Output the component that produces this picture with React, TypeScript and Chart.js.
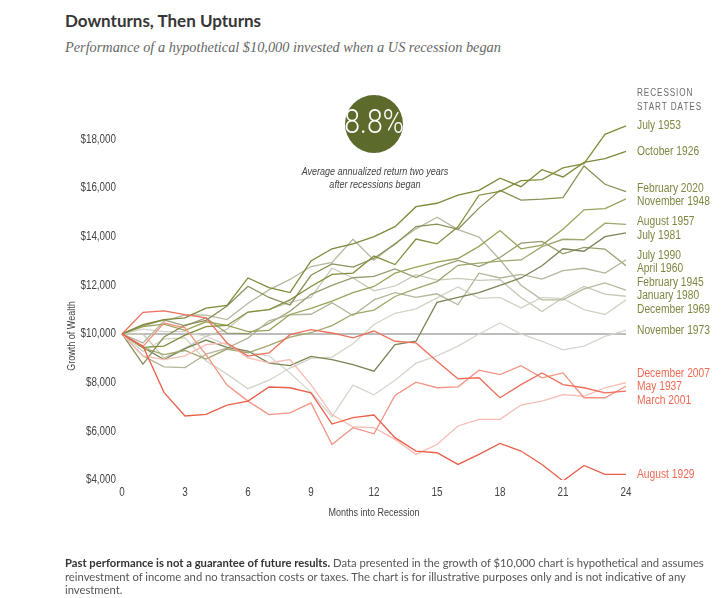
import React, { useEffect, useRef } from "react";
import { Chart, registerables } from "chart.js";

Chart.register(...registerables);

const SANS = '"Liberation Sans", Arial, sans-serif';
const SX = 0.82; // horizontal condensing applied to canvas text

// ---------- data ----------
const MONTHS = ["0", "1", "2", "3", "4", "5", "6", "7", "8", "9", "10", "11", "12", "13", "14", "15", "16", "17", "18", "19", "20", "21", "22", "23", "24"];
const X_TICKS = [0, 3, 6, 9, 12, 15, 18, 21, 24];
const Y_TICKS = [4000, 6000, 8000, 10000, 12000, 14000, 16000, 18000];
const BASELINE = 10000;
const HEADLINE_RETURN = "8.8%";
const HEADLINE_CAPTION = ["Average annualized return two years", "after recessions began"];
const LEGEND_HEADER = ["RECESSION", "START DATES"];
const X_TITLE = "Months into Recession";
const Y_TITLE = "Growth of Wealth";

const JUL_1953 = [10000, 9450, 9500, 9950, 10300, 10350, 10900, 11000, 11400, 11950, 12450, 12500, 13200, 12850, 13900, 13700, 14400, 15700, 15860, 16300, 16340, 16820, 17000, 18200, 18550];
const OCT_1926 = [10000, 10380, 10590, 10660, 11060, 11170, 12300, 11900, 11700, 13000, 13500, 13700, 14000, 14410, 15230, 15370, 15700, 15900, 16400, 16050, 16750, 16450, 17050, 17200, 17500];
const FEB_2020 = [10000, 8760, 9880, 10360, 10560, 11150, 11960, 11500, 11190, 12410, 12880, 12750, 13110, 13690, 14410, 14510, 14300, 15170, 15900, 15500, 15540, 15600, 16900, 16150, 15850];
const NOV_1948 = [10000, 10300, 10400, 10150, 10500, 10350, 10100, 10150, 10800, 11050, 11350, 11700, 11950, 12500, 12750, 12950, 13100, 13600, 14250, 13500, 13650, 14300, 15100, 15150, 15550];
const AUG_1957 = [10000, 9430, 9150, 9320, 8970, 9380, 9220, 9530, 9870, 10050, 10340, 10820, 10980, 11540, 11860, 12150, 12820, 12910, 12990, 13040, 13590, 13890, 13870, 14550, 14500];
const JUL_1981 = [10000, 9450, 8950, 9400, 9750, 9450, 9300, 8800, 8700, 9080, 8950, 8740, 8470, 9560, 9700, 11300, 11500, 11700, 12000, 12300, 12800, 13500, 13400, 14000, 14150];
const JUL_1990 = [10000, 9100, 8650, 8620, 9170, 9420, 9830, 10540, 10790, 10810, 11280, 10760, 11400, 11700, 11500, 11650, 11200, 12500, 12300, 12450, 12250, 12600, 12700, 12500, 13050];
const APR_1960 = [10000, 10330, 10580, 10330, 10660, 10030, 10010, 10430, 10930, 11630, 12000, 12310, 12370, 12670, 12320, 12740, 13020, 12770, 13140, 13730, 13800, 13290, 13560, 13490, 12800];
const FEB_1945 = [10000, 9630, 10530, 10780, 10770, 10590, 11260, 11810, 12240, 12770, 12940, 13890, 13030, 13720, 14320, 14800, 14290, 13980, 13050, 12000, 11400, 11400, 11850, 12100, 11800];
const JAN_1980 = [10000, 10000, 9020, 9420, 9900, 10200, 10900, 11000, 11300, 11500, 12700, 12300, 11770, 11970, 12440, 12210, 12280, 12200, 12230, 11500, 10920, 11490, 11950, 11640, 11550];
const DEC_1969 = [10000, 9280, 9800, 9840, 8900, 8350, 7750, 8100, 8600, 9000, 9050, 9600, 10390, 10850, 11030, 11480, 11930, 11460, 11500, 11070, 11500, 11450, 11000, 10800, 11400];
const NOV_1973 = [10000, 10200, 10100, 10100, 9900, 9550, 9250, 9100, 8400, 7600, 6600, 7900, 7500, 8100, 8800, 9100, 9500, 10000, 10450, 10000, 9700, 9350, 9500, 9900, 10150];
const DEC_2007 = [10000, 9100, 8950, 9100, 9560, 9630, 9020, 8810, 8950, 7920, 6690, 6180, 6150, 5670, 5050, 5460, 6220, 6490, 6490, 7080, 7240, 7510, 7440, 7790, 8000];
const MAY_1937 = [10000, 9490, 10450, 10250, 9150, 7900, 7240, 6690, 6760, 7170, 5460, 6150, 5900, 7470, 8020, 7790, 7830, 8510, 8330, 8700, 8200, 8400, 7380, 7380, 7850];
const MAR_2001 = [10000, 10890, 10950, 10790, 10660, 9630, 9090, 9220, 9970, 10180, 10040, 9840, 10120, 9700, 9630, 8880, 8160, 8200, 7380, 7920, 8400, 7920, 7790, 7580, 7650];
const AUG_1929 = [10000, 9500, 7600, 6630, 6700, 7080, 7240, 7820, 7790, 7580, 6300, 6560, 6670, 5740, 5190, 5120, 4640, 5050, 5500, 5190, 4640, 3960, 4600, 4230, 4230];

// table (drawing order: first = on top)
const SERIES = [
  { name: "August 1929", values: AUG_1929, color: "#ea5f49", red: true },
  { name: "March 2001", values: MAR_2001, color: "#ee6f5b", red: true },
  { name: "May 1937", values: MAY_1937, color: "#f29483", red: true },
  { name: "December 2007", values: DEC_2007, color: "#f7bcb3", red: true },
  { name: "July 1953", values: JUL_1953, color: "#858d3c", red: false },
  { name: "October 1926", values: OCT_1926, color: "#7d8838", red: false },
  { name: "February 2020", values: FEB_2020, color: "#8a9058", red: false },
  { name: "November 1948", values: NOV_1948, color: "#9ba25a", red: false },
  { name: "August 1957", values: AUG_1957, color: "#a0a66c", red: false },
  { name: "July 1981", values: JUL_1981, color: "#7a8455", red: false },
  { name: "July 1990", values: JUL_1990, color: "#b3b699", red: false },
  { name: "April 1960", values: APR_1960, color: "#979d6c", red: false },
  { name: "February 1945", values: FEB_1945, color: "#b6b99e", red: false },
  { name: "January 1980", values: JAN_1980, color: "#c7c9b6", red: false },
  { name: "December 1969", values: DEC_1969, color: "#d2d4c6", red: false },
  { name: "November 1973", values: NOV_1973, color: "#d5d5cf", red: false },
];

function spreadLabels(ys: number[], gap: number): number[] {
  const idx = ys.map((_, i) => i).sort((a, b) => ys[a] - ys[b]);
  const pos = idx.map((i) => ys[i]);
  for (let it = 0; it < 300; it++) {
    let moved = false;
    for (let k = 1; k < pos.length; k++) {
      const d = pos[k] - pos[k - 1];
      if (d < gap - 0.01) {
        const s = (gap - d) / 2;
        pos[k - 1] -= s;
        pos[k] += s;
        moved = true;
      }
    }
    if (!moved) break;
  }
  const out: number[] = new Array(ys.length);
  idx.forEach((i, k) => (out[i] = pos[k]));
  return out;
}

function drawText(
  ctx: CanvasRenderingContext2D,
  str: string,
  x: number,
  y: number,
  o: { size: number; color: string; align?: CanvasTextAlign; italic?: boolean; weight?: string; spacing?: number; rotate?: number; family?: string; sx?: number }
) {
  const sx = o.sx || SX;
  ctx.save();
  ctx.translate(x, y);
  if (o.rotate) ctx.rotate(o.rotate);
  ctx.scale(sx, 1);
  ctx.font = `${o.italic ? "italic " : ""}${o.weight || "normal"} ${o.size}px ${o.family || SANS}`;
  ctx.fillStyle = o.color;
  ctx.textAlign = o.align || "left";
  ctx.textBaseline = "middle";
  (ctx as any).letterSpacing = o.spacing ? `${o.spacing / sx}px` : "0px";
  ctx.fillText(str, 0, 0);
  ctx.restore();
}

const overlay = {
  id: "overlay",
  beforeDatasetsDraw(chart: any) {
    const { ctx, chartArea: a, scales } = chart;
    const yy = scales.y.getPixelForValue(BASELINE);
    ctx.save();
    ctx.strokeStyle = "#bdbdbd";
    ctx.lineWidth = 2;
    ctx.beginPath();
    ctx.moveTo(a.left, yy);
    ctx.lineTo(a.right, yy);
    ctx.stroke();
    ctx.restore();
  },
  afterDraw(chart: any) {
    const { ctx, chartArea: a, scales } = chart;
    const x = scales.x;
    const y = scales.y;

    // tick labels (positions from the chart's own scales)
    Y_TICKS.forEach((v) => {
      drawText(ctx, "$" + v.toLocaleString("en-US"), a.left - 6, y.getPixelForValue(v), { size: 12, color: "#444", align: "right" });
    });
    X_TICKS.forEach((m) => {
      drawText(ctx, MONTHS[m], x.getPixelForValue(m), a.bottom + 13, { size: 12, color: "#444", align: "center" });
    });

    // axis titles
    drawText(ctx, X_TITLE, (a.left + a.right) / 2, 513, { size: 11, color: "#444", align: "center" });
    drawText(ctx, Y_TITLE, 72, 336, { size: 11, color: "#444", align: "center", rotate: -Math.PI / 2 });

    // series labels
    const ends = SERIES.map((s) => y.getPixelForValue(s.values[s.values.length - 1]));
    const ly = spreadLabels(ends, 13.5);
    SERIES.forEach((s, i) => {
      drawText(ctx, s.name, a.right + 11, ly[i], { size: 12.5, color: s.red ? "#ee6a55" : "#7f8640" });
    });

    // legend header
    drawText(ctx, LEGEND_HEADER[0], a.right + 11, 93, { size: 10, color: "#6a6a6a", spacing: 0.9 });
    drawText(ctx, LEGEND_HEADER[1], a.right + 11, 107, { size: 10, color: "#6a6a6a", spacing: 0.9 });

    // headline circle
    const cx = x.getPixelForValue(12);
    const cy = 124;
    ctx.save();
    ctx.fillStyle = "#5c6a2c";
    ctx.beginPath();
    ctx.arc(cx, cy, 29, 0, Math.PI * 2);
    ctx.fill();
    ctx.restore();
    drawText(ctx, HEADLINE_RETURN, cx, cy + 1, { size: 33, color: "#ffffff", align: "center", family: 'Roboto, "Liberation Sans", sans-serif', weight: "300", sx: 0.86 });
    drawText(ctx, HEADLINE_CAPTION[0], cx + 1, 172, { size: 11, color: "#444", align: "center", italic: true });
    drawText(ctx, HEADLINE_CAPTION[1], cx + 1, 185, { size: 11, color: "#444", align: "center", italic: true });
  },
};

export default function App() {
  const ref = useRef<HTMLCanvasElement>(null);
  useEffect(() => {
    const chart = new Chart(ref.current as HTMLCanvasElement, {
      type: "line",
      data: {
        labels: MONTHS,
        datasets: SERIES.map((s) => ({
          label: s.name,
          data: s.values,
          borderColor: s.color,
          borderWidth: 1.3,
          pointRadius: 0,
          tension: 0,
          fill: false,
        })),
      },
      options: {
        responsive: false,
        animation: false,
        devicePixelRatio: 1,
        layout: { padding: { left: 72, right: 99, top: 114.9, bottom: 88 } },
        plugins: { legend: { display: false }, tooltip: { enabled: false } },
        scales: {
          x: {
            type: "category",
            grid: { display: false, drawTicks: false },
            border: { display: false },
            ticks: { display: false, autoSkip: false },
            afterFit: (s: any) => {
              s.height = 30;
            },
          },
          y: {
            min: 4000,
            max: 19000,
            grid: { display: false, drawTicks: false },
            border: { display: false },
            afterBuildTicks: (s: any) => {
              s.ticks = Y_TICKS.map((v) => ({ value: v }));
            },
            ticks: { display: false },
            afterFit: (s: any) => {
              s.width = 50;
            },
          },
        },
      } as any,
      plugins: [overlay],
    });
    return () => chart.destroy();
  }, []);

  return (
    <div style={{ position: "fixed", left: 0, top: 0, width: 725, height: 598, background: "#fff", overflow: "hidden" }}>
      <div style={{ position: "absolute", left: 65, top: 12, font: "bold 17px Lato", lineHeight: "17px", color: "#363636", whiteSpace: "nowrap" }}>
        Downturns, Then Upturns
      </div>
      <div style={{ position: "absolute", left: 65, top: 40, font: 'italic 14.3px "Liberation Serif"', lineHeight: "14.3px", color: "#666", whiteSpace: "nowrap" }}>
        Performance of a hypothetical $10,000 invested when a US recession began
      </div>
      <canvas ref={ref} width={725} height={598} style={{ position: "absolute", left: 0, top: 0, width: 725, height: 598 }} />
      <div style={{ position: "absolute", left: 65, top: 556, font: "11.25px Lato", lineHeight: "13.5px", color: "#555", whiteSpace: "nowrap" }}>
        <b style={{ color: "#333", fontWeight: 700 }}>Past performance is not a guarantee of future results.</b> Data presented in the growth of $10,000 chart is hypothetical and assumes
        <br />
        reinvestment of income and no transaction costs or taxes. The chart is for illustrative purposes only and is not indicative of any
        <br />
        investment.
      </div>
    </div>
  );
}
